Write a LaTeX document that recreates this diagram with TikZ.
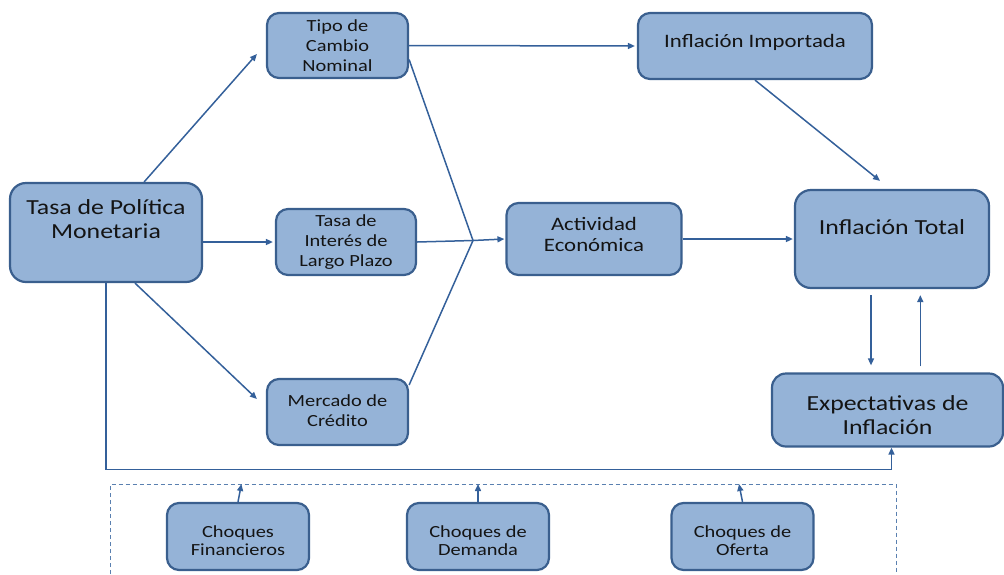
\documentclass[tikz,border=0pt]{standalone}
\usepackage{fontspec}
\setmainfont{Carlito}[FakeStretch=1.2]
\usetikzlibrary{arrows.meta,calc}
\definecolor{boxfill}{HTML}{95B3D7}
\definecolor{boxline}{HTML}{3A5F8E}
\definecolor{conn}{HTML}{34609A}
\definecolor{dashc}{HTML}{5A80B0}
\definecolor{txt}{HTML}{141414}
\begin{document}
\begin{tikzpicture}[x=1pt,y=-1pt,
  box/.style={draw=boxline,line width=2.2pt,fill=boxfill,rounded corners=#1,inner sep=0pt},
  box/.default=12pt,
  lbl/.style={text=txt,align=center,inner sep=0pt},
  big/.style={font=\fontsize{21.5}{24}\selectfont},
  mid/.style={font=\fontsize{19}{21}\selectfont},
  small/.style={font=\fontsize{17}{20}\selectfont},
  tiny/.style={font=\fontsize{17}{18}\selectfont},
  ln/.style={draw=conn,line width=1.5pt},
  arr/.style={draw=conn,line width=1.5pt,-{Triangle[length=7pt,width=6pt]}}]
\useasboundingbox (0,0) rectangle (1004,574);

% boxes
\node[box=16pt,minimum width=192pt,minimum height=99pt] (tpm) at (106,232.5) {};
\node[lbl,big] (tpmT) at (106,219) {Tasa de Política\\Monetaria};

\node[box,minimum width=141pt,minimum height=65pt] (tcn) at (337.5,45.5) {};
\node[lbl,small] (tcnT) at (337.5,46) {Tipo de\\Cambio\\Nominal};

\node[box,minimum width=140pt,minimum height=66pt] (til) at (346,242) {};
\node[lbl,small] (tilT) at (346,242) {Tasa de\\Interés de\\Largo Plazo};

\node[box,minimum width=141pt,minimum height=66pt] (mdc) at (337.5,412) {};
\node[lbl,small] (mdcT) at (337.5,411) {Mercado de\\Crédito};

\node[box,minimum width=175pt,minimum height=72pt] (act) at (594,239) {};
\node[lbl,mid] (actT) at (594,234.5) {Actividad\\Económica};

\node[box,minimum width=234pt,minimum height=66pt] (imp) at (755,46) {};
\node[lbl,mid] (impT) at (755,42) {Inflación Importada};

\node[box=16pt,minimum width=194pt,minimum height=98pt] (tot) at (892,239) {};
\node[lbl,big] (totT) at (892,227) {Inflación Total};

\node[box=14pt,minimum width=231pt,minimum height=73pt] (exp) at (887.5,410) {};
\node[lbl,big] (expT) at (887.5,415) {Expectativas de\\Inflación};

\node[box,minimum width=142pt,minimum height=67pt] (chf) at (238,536.5) {};
\node[lbl,tiny] (chfT) at (238,540.5) {Choques\\Financieros};

\node[box,minimum width=142pt,minimum height=67pt] (chd) at (478,536.5) {};
\node[lbl,tiny] (chdT) at (478,540.5) {Choques de\\Demanda};

\node[box,minimum width=142pt,minimum height=67pt] (cho) at (742.5,536.5) {};
\node[lbl,tiny] (choT) at (742.5,540.5) {Choques de\\Oferta};

% dashed frame
\draw[dashc,line width=1pt,dash pattern=on 4pt off 3pt] (110.5,574) -- (110.5,484) -- (896,484) -- (896,574);

% helper coordinates
\coordinate (j) at (473,240.5);
\coordinate (hl) at (0,469.3);
\coordinate (dt) at (0,484);
\coordinate (d1) at ([xshift=-21pt,yshift=-6pt]tot.south);
\coordinate (d2) at ([yshift=7pt]exp.north);
\coordinate (u1) at ([xshift=32.8pt,yshift=6pt]exp.north);
\coordinate (cfa) at ([xshift=3.4pt]chf.north);
\coordinate (cda) at (chd.north);
\coordinate (coa) at ([xshift=-3.5pt]cho.north);
\coordinate (ea) at ([xshift=4pt]exp.south);

% connectors
\draw[arr] (tpm.53) -- ([xshift=-9pt,yshift=-8.5pt]tcn.west);
\draw[arr] (tpm.east |- til.west) -- ([xshift=-2pt]til.west);
\draw[arr] ([xshift=29pt]tpm.south) -- ([xshift=-9pt,yshift=13pt]mdc.west);
\draw[arr] (tpm.south) -- (tpm.south |- hl) -- (ea |- hl) -- (ea);

\draw[arr] (tcn.east) -- ([xshift=-2pt]imp.west);
\draw[ln] ([yshift=-14pt]tcn.east) -- (j);
\draw[ln] (til.east) -- (j);
\draw[ln] ([yshift=27pt]mdc.east) -- (j);
\draw[arr] (j) -- ([xshift=-1pt]act.west);

\draw[arr] (imp.south) -- ([xshift=-12pt,yshift=8pt]tot.north);
\draw[arr] (act.east) -- ([xshift=-1pt]tot.west);
\draw[arr] (d1) -- (d1 |- d2);
\draw[arr] (u1) -- (u1 |- d1);

\draw[arr] (chf.north) -- (cfa |- dt);
\draw[arr] (chd.north) -- (cda |- dt);
\draw[arr] (cho.north) -- (coa |- dt);
\end{tikzpicture}
\end{document}
